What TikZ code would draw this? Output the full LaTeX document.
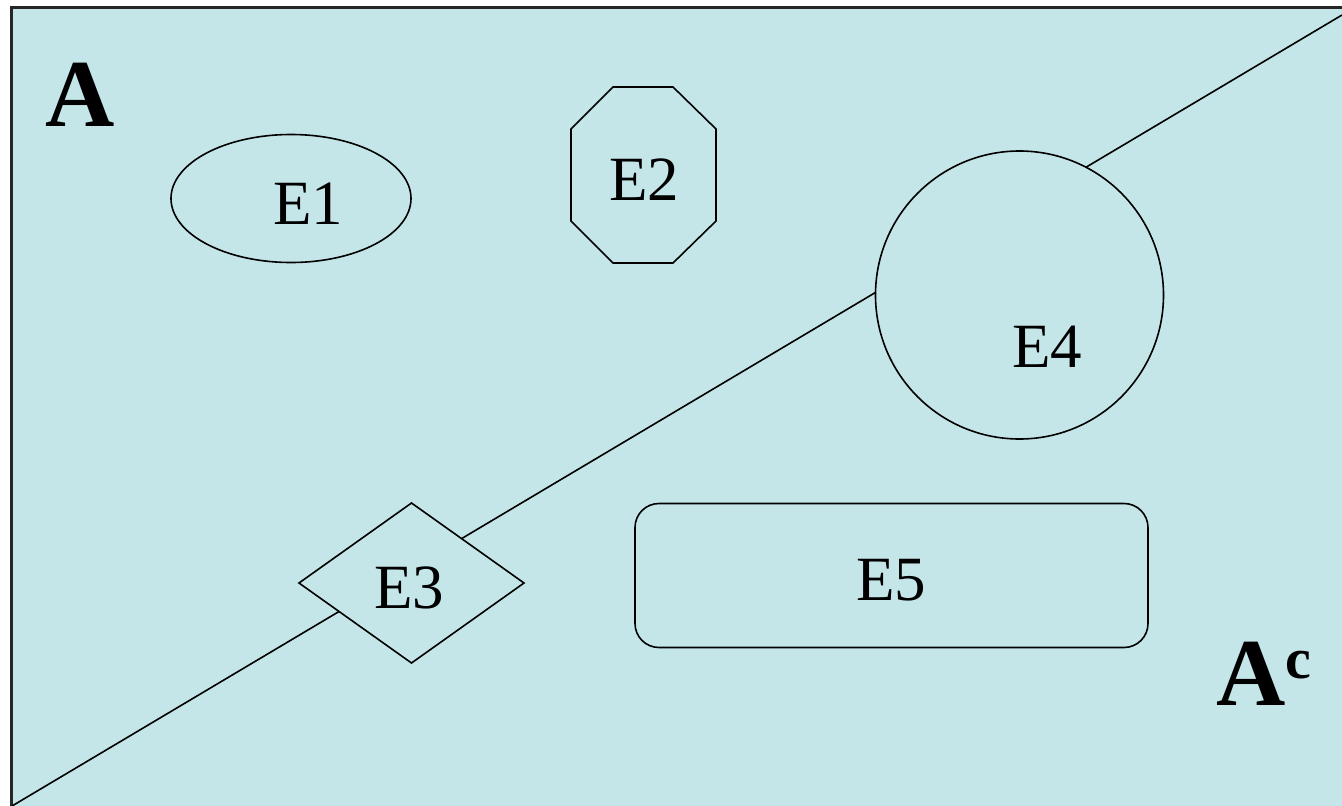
\documentclass[tikz,border=0pt]{standalone}
\usepackage{fontspec}
\setmainfont{Liberation Serif}
\definecolor{bgcyan}{RGB}{197,230,232}
\tikzset{
  shapeline/.style={draw=black, line width=1.6pt, fill=bgcyan},
  elabel/.style={inner sep=0pt, font=\fontsize{63}{63}\selectfont},
  setlabel/.style={inner sep=0pt, font=\fontsize{96}{96}\selectfont\bfseries}
}
\begin{document}
\begin{tikzpicture}[x=1pt, y=-1pt]
\useasboundingbox (0,0) rectangle (1342,806);
\clip (0,0) rectangle (1342,806);
% sample space
\draw[fill=bgcyan, draw=black!85, line width=2.2pt] (11.5,7.5) rectangle (1360,830);
% dividing line
\coordinate (lstart) at (12,806);
\coordinate (lend) at (1342,15);
\draw[line width=1.6pt] (lstart) -- (lend);
% E1 ellipse
\draw[shapeline] (291,198.5) ellipse [x radius=120, y radius=64];
\node[elabel] (e1) at (308,203.5) {E1};
% E2 octagon
\draw[shapeline] (613,87) -- (673,87) -- (716,129) -- (716,221) -- (673,263) -- (613,263) -- (571,221) -- (571,129) -- cycle;
\node[elabel] (e2) at (644,179.5) {E2};
% E3 diamond
\draw[shapeline] (411.5,503) -- (524,583) -- (411.5,663) -- (299,583) -- cycle;
\node[elabel] (e3) at (409,588) {E3};
% E4 circle
\draw[shapeline] (1019.5,295) circle [radius=144];
\node[elabel] (e4) at (1047,347) {E4};
% E5 rounded rectangle
\draw[shapeline, rounded corners=24pt] (635,503.5) rectangle (1148,647.5);
\node[elabel] (e5) at (891,580) {E5};
% set labels
\node[setlabel] (A) at (80.5,95) {A};
\node[setlabel, anchor=base west] (Ac) at (1216,705) {A\raisebox{27pt}{\fontsize{58}{58}\selectfont c}};
\end{tikzpicture}
\end{document}
